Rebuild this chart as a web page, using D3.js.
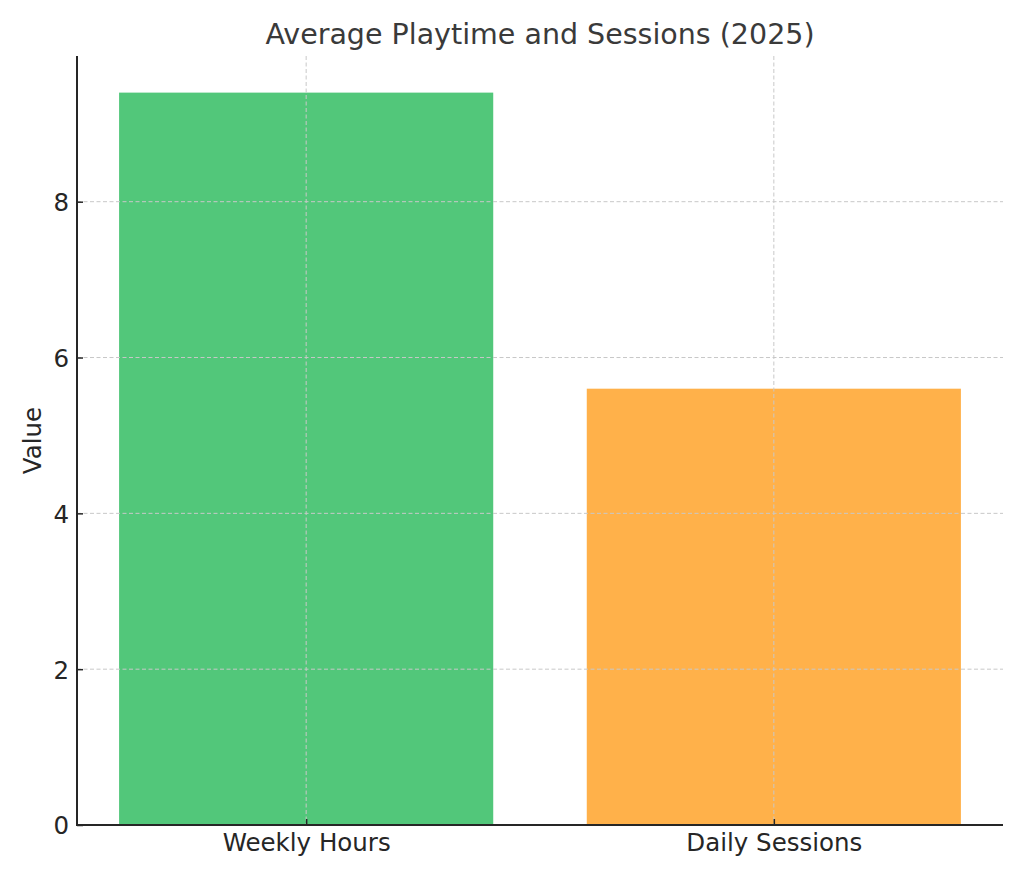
<!DOCTYPE html>
<html>
<head>
<meta charset="utf-8">
<script src="https://cdn.jsdelivr.net/npm/d3@7"></script>
<style>
  html, body { margin: 0; padding: 0; background: #fff; }
  svg { display: block; }
  text { font-family: "DejaVu Sans", sans-serif; }
</style>
</head>
<body>
<svg id="chart" width="1024" height="878"></svg>
<script>
const categories = ["Weekly Hours", "Daily Sessions"];
const values = [9.4, 5.6];
const barColors = ["#52C77A", "#FFB14A"];
const yTicks = [0, 2, 4, 6, 8];
const title = "Average Playtime and Sessions (2025)";
const yLabel = "Value";

const W = 1024, H = 878;
const m = { left: 77, right: 1003, top: 56, bottom: 825 };
const svg = d3.select("#chart");

const idx = categories.map((d, i) => i);
const x = d3.scaleLinear().domain([-0.49, 1.49]).range([m.left, m.right]);
const barW = 0.8;
const yMax = d3.max(values) * 1.05;
const y = d3.scaleLinear().domain([0, yMax]).range([m.bottom, m.top]);

// bars
svg.append("g").selectAll("rect").data(values).join("rect")
  .attr("x", (d, i) => x(i - barW / 2))
  .attr("width", (d, i) => x(i + barW / 2) - x(i - barW / 2))
  .attr("y", d => y(d))
  .attr("height", d => y(0) - y(d))
  .attr("fill", (d, i) => barColors[i]);

// grid (drawn over bars)
const grid = svg.append("g").attr("stroke", "#c8c8c8").attr("stroke-width", 1)
  .attr("stroke-dasharray", "4,2.5");
grid.selectAll("line.h").data(yTicks.filter(t => t > 0)).join("line")
  .attr("class", "h")
  .attr("x1", m.left).attr("x2", m.right)
  .attr("y1", d => y(d)).attr("y2", d => y(d));
grid.selectAll("line.v").data(idx).join("line")
  .attr("class", "v")
  .attr("x1", d => x(d)).attr("x2", d => x(d))
  .attr("y1", m.top).attr("y2", m.bottom);

// axes
const yAxis = d3.axisLeft(y).tickValues(yTicks).tickFormat(d3.format("d"))
  .tickSizeInner(-6).tickSizeOuter(0).tickPadding(8);
const gy = svg.append("g").attr("transform", `translate(${m.left},0)`).call(yAxis);
const xAxis = d3.axisBottom(x).tickValues(idx).tickFormat(i => categories[i])
  .tickSizeInner(-6).tickSizeOuter(0).tickPadding(8);
const gx = svg.append("g").attr("transform", `translate(0,${m.bottom})`).call(xAxis);

[gx, gy].forEach(g => {
  g.select(".domain").remove();
  g.selectAll(".tick line").attr("stroke", "#262626").attr("stroke-width", 1.5);
  g.selectAll(".tick text").attr("fill", "#262626")
    .style("font-family", "'DejaVu Sans', sans-serif").style("font-size", "24.5px");
});
gy.selectAll(".tick text").attr("dy", "0.36em");
gx.selectAll(".tick text").attr("dy", "0.75em");

// spines
svg.append("line").attr("x1", m.left).attr("x2", m.left).attr("y1", m.top).attr("y2", m.bottom + 1)
  .attr("stroke", "#262626").attr("stroke-width", 2);
svg.append("line").attr("x1", m.left - 1).attr("x2", m.right).attr("y1", m.bottom).attr("y2", m.bottom)
  .attr("stroke", "#262626").attr("stroke-width", 2);

// title
svg.append("text").attr("x", (m.left + m.right) / 2).attr("y", 44)
  .attr("text-anchor", "middle").attr("fill", "#3a3a3a")
  .style("font-size", "28.5px").text(title);

// y label
svg.append("text")
  .attr("transform", `translate(41,${(m.top + m.bottom) / 2}) rotate(-90)`)
  .attr("text-anchor", "middle").attr("fill", "#262626")
  .style("font-size", "24.5px").text(yLabel);
</script>
</body>
</html>
